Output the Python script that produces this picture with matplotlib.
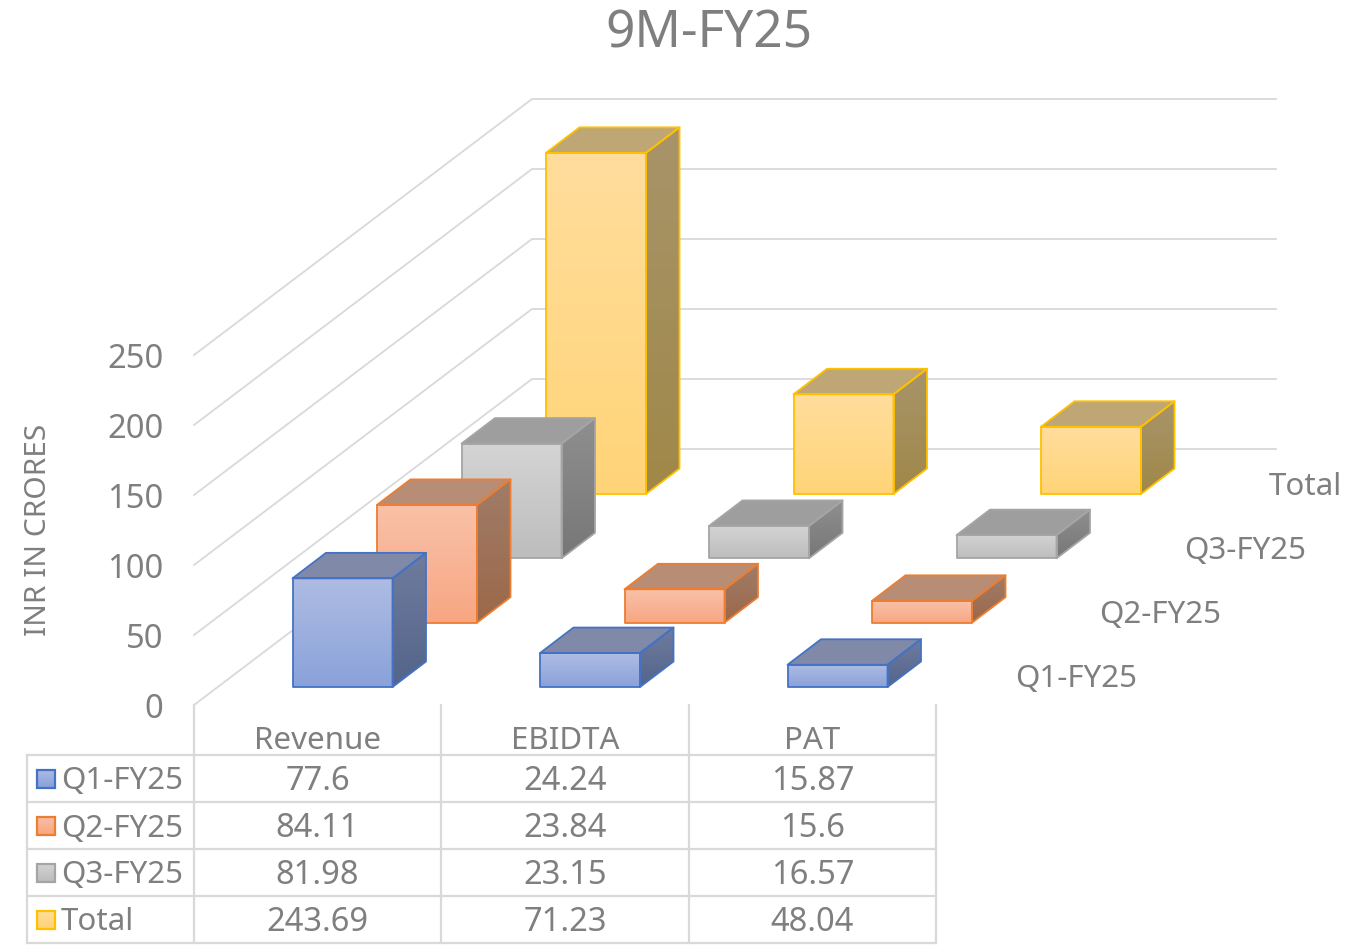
import numpy as np
import matplotlib
matplotlib.use('Agg')
import matplotlib.pyplot as plt
from matplotlib.patches import Polygon

categories = ['Revenue', 'EBIDTA', 'PAT']
series_names = ['Q1-FY25', 'Q2-FY25', 'Q3-FY25', 'Total']
q1_values = [77.6, 24.24, 15.87]
q2_values = [84.11, 23.84, 15.6]
q3_values = [81.98, 23.15, 16.57]
total_values = [243.69, 71.23, 48.04]
value_labels = [['77.6', '24.24', '15.87'],
                ['84.11', '23.84', '15.6'],
                ['81.98', '23.15', '16.57'],
                ['243.69', '71.23', '48.04']]
y_ticks = [0, 50, 100, 150, 200, 250]
series_values = [q1_values, q2_values, q3_values, total_values]

# face colours per series: edge, front top/bottom, side top/bottom, top face
edge_colors = ['#4472C4', '#ED7D31', '#A5A5A5', '#FFC000']
front_colors = [('#AEBCE3', '#8AA2DA'), ('#F8C1A8', '#F9A682'),
                ('#D4D4D4', '#BDBDBD'), ('#FFDD9C', '#FFD478')]
side_colors = [('#6E7C9E', '#54648A'), ('#A07C68', '#9C6849'),
               ('#8F8F8F', '#777777'), ('#A8946A', '#A08848')]
top_colors = ['#8189A9', '#B88D75', '#9E9E9E', '#BFA775']

TEXT = '#7F7F7F'
GRID = '#D9D9D9'
plt.rcParams['font.family'] = ['Noto Sans', 'DejaVu Sans']

# layout of the oblique projection, in pixels
PX_PER_UNIT = 1.4
BAR_X0, BAR_Y0 = 292.5, 687
CAT_STEP = 247.5
SER_DX, SER_DY = 84.5, -64.33
DEPTH_X, DEPTH_Y = 33.5, -25.5
BAR_W = 100
FLOOR_X, FLOOR_Y = 194, 705
BACK_X, BACK_Y = 532, 449
RIGHT_X = 1276
TABLE_X = [194, 441, 689, 936]
TABLE_Y = [755, 802, 849, 896, 943]
TABLE_LEFT = 27
LABEL_PT = 22.5
NUM_PT = 23.5


def hex_rgb(c):
    return np.array(matplotlib.colors.to_rgb(c))


def gradient_face(ax, pts, c_top, c_bottom, z):
    pts = np.array(pts)
    t = np.linspace(0, 1, 64)[:, None, None]
    img = (1 - t) * hex_rgb(c_top)[None, None, :] + t * hex_rgb(c_bottom)[None, None, :]
    ext = [pts[:, 0].min(), pts[:, 0].max(), pts[:, 1].max(), pts[:, 1].min()]
    im = ax.imshow(img, extent=ext, aspect='auto', zorder=z, interpolation='bilinear')
    im.set_clip_path(Polygon(pts, closed=True, transform=ax.transData))


def draw_bar(ax, cat, ser, value, z):
    x = BAR_X0 + CAT_STEP * cat + SER_DX * ser
    base = BAR_Y0 + SER_DY * ser
    top = base - value * PX_PER_UNIT
    edge = edge_colors[ser]
    front = [(x, top), (x + BAR_W, top), (x + BAR_W, base), (x, base)]
    side = [(x + BAR_W, top), (x + BAR_W + DEPTH_X, top + DEPTH_Y),
            (x + BAR_W + DEPTH_X, base + DEPTH_Y), (x + BAR_W, base)]
    cap = [(x, top), (x + DEPTH_X, top + DEPTH_Y),
           (x + BAR_W + DEPTH_X, top + DEPTH_Y), (x + BAR_W, top)]
    gradient_face(ax, side, side_colors[ser][0], side_colors[ser][1], z)
    gradient_face(ax, front, front_colors[ser][0], front_colors[ser][1], z)
    ax.add_patch(Polygon(cap, closed=True, fc=top_colors[ser], ec='none', zorder=z))
    for poly in (side, front, cap):
        ax.add_patch(Polygon(poly, closed=True, fc='none', ec=edge, lw=1.3,
                             joinstyle='round', zorder=z + 0.1))


fig = plt.figure(figsize=(13.58, 9.52), dpi=100)
ax = fig.add_axes([0, 0, 1, 1])

# walls
for v in y_ticks:
    d = v * PX_PER_UNIT
    ax.plot([FLOOR_X, BACK_X, RIGHT_X], [FLOOR_Y - d, BACK_Y - d, BACK_Y - d],
            color=GRID, lw=1.3, zorder=1)
    ax.text(163.5, FLOOR_Y - d + 4.5, str(v), ha='right', va='center', fontsize=NUM_PT, color=TEXT)

# bars, back row first
z = 2
for ser in range(len(series_names) - 1, -1, -1):
    for cat in range(len(categories)):
        draw_bar(ax, cat, ser, series_values[ser][cat], z)
        z += 1

# table
for x in TABLE_X:
    ax.plot([x, x], [FLOOR_Y, TABLE_Y[-1]], color=GRID, lw=1.6, zorder=1)
ax.plot([TABLE_LEFT, TABLE_LEFT], [TABLE_Y[0], TABLE_Y[-1]], color=GRID, lw=1.6, zorder=1)
for y in TABLE_Y:
    ax.plot([TABLE_LEFT, TABLE_X[-1]], [y, y], color=GRID, lw=1.6, zorder=1)

for c, name in enumerate(categories):
    cx = (TABLE_X[c] + TABLE_X[c + 1]) / 2
    ax.text(cx, 741, name, ha='center', va='center', fontsize=LABEL_PT, color=TEXT)
for s, name in enumerate(series_names):
    cy = (TABLE_Y[s] + TABLE_Y[s + 1]) / 2
    key = [(37, cy - 9), (55, cy - 9), (55, cy + 9), (37, cy + 9)]
    gradient_face(ax, key, front_colors[s][0], front_colors[s][1], 3)
    ax.add_patch(Polygon(key, closed=True, fc='none', ec=edge_colors[s], lw=1.6, zorder=4))
    ax.text(61, cy + 3, name, ha='left', va='center', fontsize=LABEL_PT, color=TEXT)
    for c in range(len(categories)):
        cx = (TABLE_X[c] + TABLE_X[c + 1]) / 2
        ax.text(cx, cy + 3, value_labels[s][c], ha='center', va='center', fontsize=NUM_PT, color=TEXT)
    # depth axis label
    ax.text(1015 + SER_DX * s, 679.5 + SER_DY * s, name, ha='left', va='center',
            fontsize=LABEL_PT, color=TEXT)

ax.text(39, 530, 'INR IN CRORES', rotation=90, ha='center', va='center',
        fontsize=21.5, color=TEXT)
ax.text(709, 34, '9M-FY25', ha='center', va='center', fontsize=37, color=TEXT)

ax.set_xlim(0, 1358)
ax.set_ylim(952, 0)
ax.axis('off')
fig.savefig('out.png', dpi=100, facecolor='white')
